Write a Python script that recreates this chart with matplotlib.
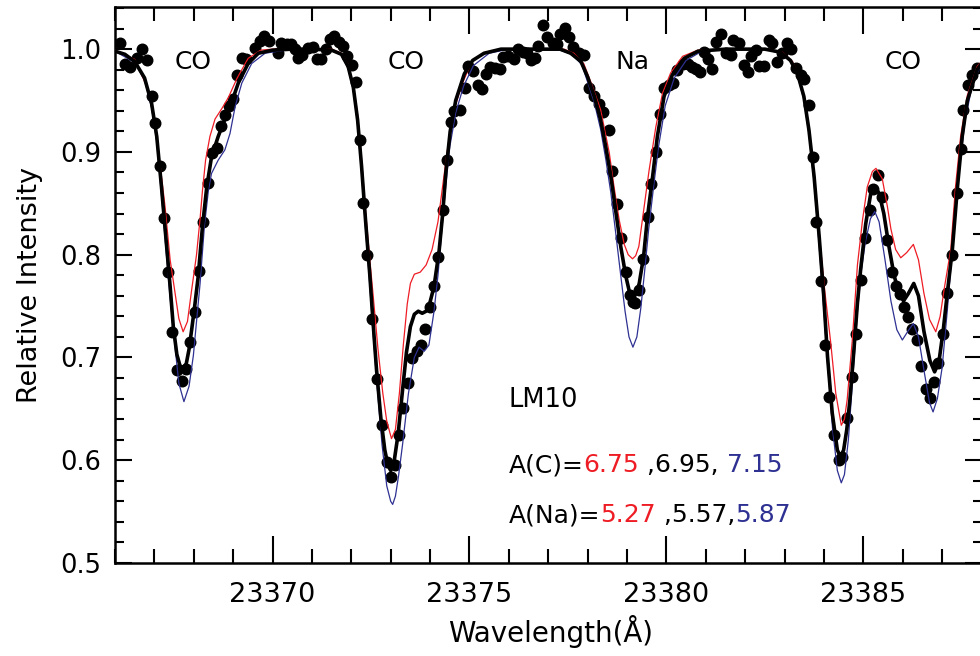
import matplotlib
matplotlib.use("Agg")
import matplotlib.pyplot as plt
from matplotlib.ticker import MultipleLocator, FormatStrFormatter

# ---------------- data ----------------
obs_wave = [23366.13, 23366.25, 23366.38, 23366.55, 23366.69, 23366.80, 23366.95, 23367.02,
            23367.14, 23367.24, 23367.34, 23367.45, 23367.58, 23367.69, 23367.80, 23367.91,
            23368.03, 23368.13, 23368.24, 23368.35, 23368.47, 23368.58, 23368.69, 23368.79,
            23368.90, 23369.00, 23369.11, 23369.22, 23369.33, 23369.55, 23369.68, 23369.79,
            23369.91, 23370.14, 23370.21, 23370.36, 23370.47, 23370.57, 23370.64, 23370.76,
            23370.91, 23371.03, 23371.12, 23371.23, 23371.35, 23371.46, 23371.57, 23371.68,
            23371.79, 23371.90, 23372.01, 23372.11, 23372.22, 23372.30, 23372.41, 23372.53,
            23372.66, 23372.77, 23372.90, 23373.00, 23373.11, 23373.22, 23373.32, 23373.44,
            23373.55, 23373.66, 23373.77, 23373.87, 23374.00, 23374.09, 23374.21, 23374.33,
            23374.44, 23374.53, 23374.61, 23374.76, 23374.89, 23374.97, 23375.10, 23375.22,
            23375.31, 23375.41, 23375.52, 23375.65, 23375.77, 23375.86, 23375.98, 23376.12,
            23376.22, 23376.35, 23376.45, 23376.56, 23376.66, 23376.74, 23376.87, 23376.98,
            23377.11, 23377.22, 23377.30, 23377.42, 23377.53, 23377.64, 23377.79, 23377.91,
            23378.04, 23378.17, 23378.29, 23378.38, 23378.55, 23378.63, 23378.74, 23378.84,
            23378.97, 23379.08, 23379.14, 23379.20, 23379.31, 23379.41, 23379.52, 23379.62,
            23379.73, 23379.84, 23379.94, 23380.07, 23380.18, 23380.28, 23380.41, 23380.55,
            23380.66, 23380.76, 23380.86, 23380.96, 23381.06, 23381.15, 23381.27, 23381.38,
            23381.51, 23381.63, 23381.70, 23381.84, 23381.96, 23382.06, 23382.14, 23382.27,
            23382.35, 23382.48, 23382.61, 23382.69, 23382.82, 23382.94, 23383.05, 23383.16,
            23383.28, 23383.41, 23383.49, 23383.62, 23383.71, 23383.79, 23383.92, 23384.02,
            23384.13, 23384.26, 23384.37, 23384.47, 23384.59, 23384.70, 23384.82, 23384.93,
            23385.03, 23385.16, 23385.25, 23385.37, 23385.48, 23385.61, 23385.72, 23385.84,
            23385.93, 23386.03, 23386.14, 23386.24, 23386.36, 23386.46, 23386.59, 23386.69,
            23386.79, 23386.90, 23387.02, 23387.13, 23387.26, 23387.37, 23387.49, 23387.54,
            23387.66, 23387.77, 23387.88]
obs_flux = [1.006, 0.986, 0.983, 0.991, 1.000, 0.989, 0.954, 0.928,
            0.886, 0.836, 0.783, 0.725, 0.688, 0.677, 0.689, 0.715,
            0.744, 0.784, 0.832, 0.870, 0.899, 0.904, 0.925, 0.936,
            0.945, 0.951, 0.975, 0.991, 0.990, 1.001, 1.008, 1.013,
            1.008, 0.996, 1.006, 1.005, 1.005, 1.000, 0.991, 0.994,
            1.001, 1.002, 0.990, 0.990, 1.000, 1.010, 1.013, 1.007,
            1.003, 0.993, 0.985, 0.968, 0.912, 0.850, 0.800, 0.737,
            0.679, 0.634, 0.598, 0.584, 0.595, 0.625, 0.651, 0.675,
            0.699, 0.706, 0.712, 0.728, 0.749, 0.770, 0.798, 0.843,
            0.892, 0.929, 0.940, 0.941, 0.962, 0.984, 0.979, 0.965,
            0.961, 0.976, 0.983, 0.982, 0.981, 0.992, 0.993, 0.990,
            1.000, 0.997, 0.996, 0.989, 0.991, 1.003, 1.023, 1.012,
            1.006, 1.005, 1.015, 1.021, 1.012, 1.002, 0.996, 0.994,
            0.962, 0.954, 0.947, 0.939, 0.921, 0.881, 0.849, 0.816,
            0.783, 0.761, 0.754, 0.753, 0.766, 0.796, 0.837, 0.869,
            0.900, 0.937, 0.962, 0.965, 0.967, 0.980, 0.986, 0.986,
            0.983, 0.981, 0.978, 0.997, 0.990, 0.981, 1.007, 1.015,
            0.996, 0.994, 1.009, 1.006, 0.985, 0.978, 0.993, 0.999,
            0.984, 0.984, 1.009, 1.006, 0.987, 0.996, 1.006, 1.000,
            0.982, 0.975, 0.971, 0.946, 0.895, 0.832, 0.774, 0.712,
            0.662, 0.625, 0.600, 0.603, 0.641, 0.681, 0.723, 0.775,
            0.816, 0.843, 0.864, 0.878, 0.856, 0.814, 0.783, 0.770,
            0.762, 0.749, 0.739, 0.728, 0.717, 0.692, 0.669, 0.661,
            0.676, 0.695, 0.723, 0.763, 0.800, 0.860, 0.903, 0.941,
            0.965, 0.975, 0.982]

# best-fit model: A(C)=6.95, A(Na)=5.57
mid_wave = [23366.00, 23366.25, 23366.50, 23366.75, 23366.93, 23367.06, 23367.18, 23367.31,
            23367.40, 23367.48, 23367.57, 23367.65, 23367.73, 23367.81, 23367.88, 23367.95,
            23368.03, 23368.11, 23368.22, 23368.33, 23368.45, 23368.62, 23368.79, 23368.96,
            23369.13, 23369.38, 23369.64, 23370.00, 23370.50, 23371.00, 23371.50, 23371.75,
            23371.92, 23372.05, 23372.16, 23372.26, 23372.36, 23372.47, 23372.56, 23372.64,
            23372.75, 23372.85, 23372.93, 23373.00, 23373.08, 23373.19, 23373.30, 23373.40,
            23373.50, 23373.60, 23373.70, 23373.80, 23373.90, 23374.00, 23374.10, 23374.23,
            23374.32, 23374.40, 23374.51, 23374.65, 23374.87, 23375.08, 23375.37, 23375.80,
            23377.30, 23377.57, 23377.83, 23378.00, 23378.17, 23378.33, 23378.46, 23378.59,
            23378.71, 23378.84, 23378.97, 23379.06, 23379.15, 23379.24, 23379.31, 23379.42,
            23379.52, 23379.65, 23379.77, 23379.94, 23380.15, 23380.45, 23380.80, 23381.50,
            23382.50, 23382.90, 23383.15, 23383.33, 23383.49, 23383.62, 23383.75, 23383.88,
            23383.99, 23384.09, 23384.21, 23384.34, 23384.42, 23384.50, 23384.58, 23384.66,
            23384.76, 23384.85, 23384.93, 23385.06, 23385.19, 23385.27, 23385.40, 23385.52,
            23385.65, 23385.78, 23385.90, 23386.02, 23386.14, 23386.28, 23386.40, 23386.54,
            23386.69, 23386.81, 23386.92, 23387.03, 23387.13, 23387.26, 23387.39, 23387.51,
            23387.64, 23387.89, 23388.00]
mid_flux = [0.998, 0.995, 0.988, 0.972, 0.947, 0.915, 0.866, 0.808,
            0.769, 0.730, 0.703, 0.692, 0.690, 0.694, 0.708, 0.728,
            0.752, 0.778, 0.827, 0.866, 0.895, 0.915, 0.932, 0.948,
            0.967, 0.986, 0.996, 0.999, 1.000, 1.000, 0.999, 0.995,
            0.983, 0.963, 0.931, 0.886, 0.834, 0.780, 0.730, 0.688,
            0.641, 0.610, 0.595, 0.590, 0.597, 0.626, 0.668, 0.705,
            0.730, 0.742, 0.745, 0.743, 0.745, 0.754, 0.769, 0.804,
            0.840, 0.880, 0.920, 0.950, 0.976, 0.989, 0.996, 1.000,
            1.000, 0.996, 0.988, 0.973, 0.954, 0.931, 0.905, 0.876,
            0.843, 0.808, 0.779, 0.764, 0.758, 0.763, 0.772, 0.798,
            0.837, 0.876, 0.915, 0.954, 0.975, 0.991, 0.998, 1.000,
            1.000, 0.997, 0.989, 0.976, 0.954, 0.921, 0.876, 0.817,
            0.762, 0.701, 0.646, 0.610, 0.603, 0.610, 0.630, 0.659,
            0.707, 0.753, 0.785, 0.830, 0.860, 0.866, 0.860, 0.840,
            0.808, 0.780, 0.763, 0.755, 0.762, 0.772, 0.760, 0.725,
            0.697, 0.686, 0.696, 0.727, 0.762, 0.805, 0.866, 0.915,
            0.950, 0.980, 0.986]

# low-abundance model: A(C)=6.75, A(Na)=5.27
low_wave = [23366.00, 23366.50, 23366.85, 23367.00, 23367.10, 23367.27, 23367.40, 23367.52,
            23367.62, 23367.73, 23367.84, 23367.94, 23368.07, 23368.16, 23368.22, 23368.30,
            23368.41, 23368.54, 23368.71, 23368.88, 23369.09, 23369.38, 23369.70, 23370.00,
            23371.50, 23371.75, 23371.92, 23372.05, 23372.16, 23372.26, 23372.36, 23372.47,
            23372.55, 23372.68, 23372.80, 23372.90, 23373.02, 23373.12, 23373.22, 23373.32,
            23373.42, 23373.50, 23373.60, 23373.75, 23373.90, 23374.05, 23374.20, 23374.32,
            23374.44, 23374.61, 23374.80, 23375.05, 23375.40, 23375.80, 23377.40, 23377.65,
            23377.90, 23378.10, 23378.33, 23378.55, 23378.67, 23378.80, 23378.93, 23379.03,
            23379.14, 23379.22, 23379.30, 23379.39, 23379.56, 23379.73, 23379.90, 23380.11,
            23380.41, 23380.80, 23381.50, 23382.60, 23382.95, 23383.20, 23383.38, 23383.52,
            23383.65, 23383.78, 23383.90, 23384.02, 23384.17, 23384.30, 23384.44, 23384.52,
            23384.59, 23384.72, 23384.85, 23384.98, 23385.10, 23385.23, 23385.32, 23385.48,
            23385.61, 23385.70, 23385.82, 23385.95, 23386.10, 23386.27, 23386.40, 23386.54,
            23386.68, 23386.84, 23386.95, 23387.05, 23387.22, 23387.34, 23387.47, 23387.64,
            23387.89, 23388.00]
low_flux = [0.999, 0.990, 0.960, 0.928, 0.902, 0.847, 0.795, 0.764,
            0.738, 0.725, 0.735, 0.764, 0.800, 0.835, 0.862, 0.892,
            0.915, 0.932, 0.942, 0.953, 0.971, 0.991, 0.999, 1.000,
            1.000, 0.996, 0.985, 0.966, 0.936, 0.893, 0.843, 0.795,
            0.762, 0.707, 0.665, 0.638, 0.621, 0.630, 0.665, 0.712,
            0.752, 0.772, 0.781, 0.783, 0.790, 0.805, 0.832, 0.867,
            0.902, 0.941, 0.965, 0.987, 0.997, 1.000, 1.000, 0.996,
            0.986, 0.966, 0.941, 0.899, 0.866, 0.834, 0.810, 0.800,
            0.796, 0.799, 0.808, 0.834, 0.882, 0.924, 0.957, 0.977,
            0.993, 0.999, 1.000, 1.000, 0.997, 0.988, 0.972, 0.948,
            0.913, 0.866, 0.812, 0.765, 0.715, 0.665, 0.634, 0.640,
            0.659, 0.717, 0.790, 0.834, 0.866, 0.881, 0.884, 0.874,
            0.847, 0.825, 0.805, 0.797, 0.802, 0.810, 0.795, 0.762,
            0.737, 0.725, 0.740, 0.766, 0.805, 0.866, 0.915, 0.955,
            0.983, 0.988]

# high-abundance model: A(C)=7.15, A(Na)=5.87
high_wave = [23366.00, 23366.50, 23366.75, 23366.93, 23367.06, 23367.18, 23367.31, 23367.40,
             23367.52, 23367.62, 23367.75, 23367.88, 23367.99, 23368.07, 23368.16, 23368.27,
             23368.37, 23368.45, 23368.62, 23368.79, 23368.92, 23369.05, 23369.22, 23369.47,
             23369.81, 23370.14, 23370.60, 23371.50, 23371.75, 23371.92, 23372.05, 23372.16,
             23372.26, 23372.36, 23372.47, 23372.56, 23372.66, 23372.78, 23372.90, 23373.00,
             23373.05, 23373.12, 23373.20, 23373.30, 23373.45, 23373.60, 23373.72, 23373.85,
             23373.97, 23374.10, 23374.20, 23374.30, 23374.40, 23374.50, 23374.65, 23374.85,
             23375.10, 23375.50, 23376.00, 23377.30, 23377.60, 23377.85, 23378.00, 23378.17,
             23378.33, 23378.46, 23378.59, 23378.71, 23378.84, 23378.95, 23379.05, 23379.15,
             23379.25, 23379.35, 23379.45, 23379.55, 23379.68, 23379.80, 23379.97, 23380.20,
             23380.50, 23380.90, 23381.50, 23382.50, 23382.90, 23383.15, 23383.33, 23383.49,
             23383.62, 23383.75, 23383.88, 23383.99, 23384.10, 23384.22, 23384.34, 23384.44,
             23384.52, 23384.62, 23384.75, 23384.85, 23384.95, 23385.05, 23385.18, 23385.29,
             23385.40, 23385.55, 23385.70, 23385.85, 23385.99, 23386.14, 23386.27, 23386.40,
             23386.55, 23386.68, 23386.77, 23386.88, 23387.00, 23387.13, 23387.28, 23387.43,
             23387.58, 23387.78, 23388.00]
high_flux = [0.998, 0.987, 0.970, 0.943, 0.910, 0.858, 0.798, 0.758,
             0.712, 0.675, 0.657, 0.672, 0.702, 0.735, 0.772, 0.828,
             0.862, 0.879, 0.892, 0.902, 0.918, 0.944, 0.967, 0.986,
             0.996, 0.998, 1.000, 0.999, 0.994, 0.981, 0.960, 0.927,
             0.880, 0.826, 0.770, 0.720, 0.670, 0.615, 0.575, 0.560,
             0.557, 0.565, 0.585, 0.615, 0.665, 0.700, 0.710, 0.706,
             0.712, 0.745, 0.780, 0.825, 0.868, 0.905, 0.938, 0.964,
             0.984, 0.996, 1.000, 0.999, 0.995, 0.985, 0.968, 0.948,
             0.922, 0.893, 0.860, 0.822, 0.780, 0.745, 0.720, 0.710,
             0.720, 0.748, 0.785, 0.825, 0.868, 0.905, 0.945, 0.972,
             0.989, 0.998, 1.000, 1.000, 0.996, 0.988, 0.974, 0.951,
             0.917, 0.870, 0.808, 0.750, 0.690, 0.630, 0.590, 0.578,
             0.586, 0.620, 0.690, 0.745, 0.785, 0.812, 0.835, 0.842,
             0.832, 0.795, 0.755, 0.727, 0.717, 0.726, 0.733, 0.720,
             0.685, 0.656, 0.647, 0.660, 0.690, 0.745, 0.815, 0.880,
             0.930, 0.968, 0.985]

feature_labels = ["CO", "CO", "Na", "CO"]
feature_x = [23367.98, 23373.39, 23379.15, 23386.0]

star_name = "LM10"
ac_values = ["6.75", "6.95", "7.15"]
ana_values = ["5.27", "5.57", "5.87"]

# ---------------- figure ----------------
RED = "#ee1c24"
BLUE = "#2e3192"
FONT = "DejaVu Sans"
plt.rcParams["font.family"] = FONT

fig = plt.figure(figsize=(9.8, 6.56), dpi=100)
ax = fig.add_axes([115 / 980, 93 / 656, 866.5 / 980, 556 / 656])

ax.plot(obs_wave, obs_flux, linestyle="none", marker="o", markersize=7.6,
        color="black", zorder=2)
ax.plot(low_wave, low_flux, color=RED, lw=0.9, zorder=3)
ax.plot(high_wave, high_flux, color=BLUE, lw=0.9, zorder=3)
ax.plot(mid_wave, mid_flux, color="black", lw=2.6, zorder=4)

ax.set_xlim(23366, 23388)
ax.set_ylim(0.5, 1.041)

ax.xaxis.set_major_locator(MultipleLocator(5))
ax.xaxis.set_minor_locator(MultipleLocator(1))
ax.yaxis.set_major_locator(MultipleLocator(0.1))
ax.yaxis.set_minor_locator(MultipleLocator(0.02))
ax.yaxis.set_major_formatter(FormatStrFormatter("%.1f"))
ax.xaxis.set_major_formatter(FormatStrFormatter("%d"))

ax.tick_params(axis="both", which="both", direction="in", top=True, right=True,
               width=1.5, color="black")
ax.tick_params(axis="x", which="major", length=19.5, pad=14, labelsize=19.5)
ax.tick_params(axis="x", which="minor", length=10)
ax.tick_params(axis="y", which="major", length=12.5, pad=10, labelsize=18.5)
ax.tick_params(axis="y", which="minor", length=6.5)
for s in ax.spines.values():
    s.set_linewidth(1.8)

ax.set_xlabel("Wavelength(Å)", fontsize=20)
ax.set_ylabel("Relative Intensity", fontsize=19.5)
ax.xaxis.set_label_coords((551 - 115) / 866.5, (563 - 632) / 556)
ax.xaxis.label.set_verticalalignment("center")
ax.yaxis.set_label_coords((30 - 115) / 866.5, 0.5)
ax.yaxis.label.set_verticalalignment("center")

for lab, xv in zip(feature_labels, feature_x):
    ax.text(xv, 0.987, lab, fontsize=18, ha="center", va="center")

ax.text(23376.0, 0.6586, star_name, fontsize=18.5, ha="left", va="center")


def chain(x0, y0, parts):
    fig.canvas.draw()
    r = fig.canvas.get_renderer()
    x = x0
    for txt, col in parts:
        t = ax.text(x, y0, txt, fontsize=18, color=col, ha="left", va="center")
        bb = t.get_window_extent(renderer=r)
        x = ax.transData.inverted().transform((bb.x1, 0))[0]


chain(23376.0, 0.5953, [("A(C)=", "black"), (ac_values[0], RED),
                        (" ," + ac_values[1] + ", ", "black"), (ac_values[2], BLUE)])
chain(23376.0, 0.5467, [("A(Na)=", "black"), (ana_values[0], RED),
                        (" ," + ana_values[1] + ",", "black"), (ana_values[2], BLUE)])

fig.savefig("out.png", dpi=100)
